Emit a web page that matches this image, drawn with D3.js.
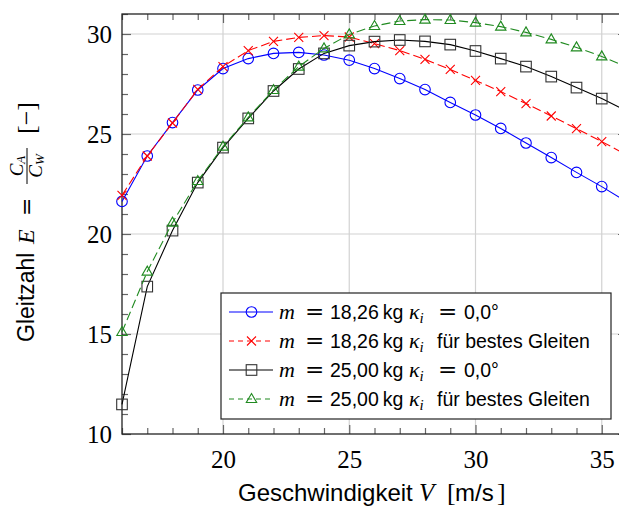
<!DOCTYPE html>
<html>
<head>
<meta charset="utf-8">
<script src="https://cdn.jsdelivr.net/npm/d3@7"></script>
<style>
  html, body { margin: 0; padding: 0; background: #fff; overflow: hidden; }
  svg { display: block; }
</style>
</head>
<body>
<div id="chart"></div>
<script>
// Fluggeschwindigkeit in m/s
const speeds = [16, 17, 18, 19, 20, 21, 22, 23, 24, 25, 26, 27, 28, 29, 30, 31, 32, 33, 34, 35, 36];

// Gleitzahl E fuer die vier Faelle
const e1826Null = [21.63, 23.9, 25.57, 27.2, 28.27, 28.77, 29.03, 29.08, 28.95, 28.69, 28.27, 27.77, 27.22, 26.58, 25.95, 25.28, 24.55, 23.82, 23.08, 22.37, 21.6];
const e1826Best = [21.93, 23.9, 25.55, 27.23, 28.37, 29.17, 29.63, 29.83, 29.92, 29.85, 29.52, 29.17, 28.73, 28.23, 27.68, 27.12, 26.52, 25.9, 25.27, 24.62, 23.95];
const e2500Null = [11.48, 17.37, 20.17, 22.57, 24.32, 25.78, 27.15, 28.25, 29.03, 29.42, 29.62, 29.7, 29.63, 29.47, 29.15, 28.77, 28.37, 27.87, 27.32, 26.77, 26.15];
const e2500Best = [15.1, 18.12, 20.57, 22.65, 24.37, 25.83, 27.2, 28.37, 29.28, 29.98, 30.4, 30.65, 30.72, 30.7, 30.57, 30.37, 30.08, 29.73, 29.33, 28.88, 28.35];

const xTicks = [20, 25, 30, 35];
const yTicks = [10, 15, 20, 25, 30];

const series = [
  { mass: '18,26', kappa: 'null', values: e1826Null, color: '#0000ff', dash: null, marker: 'circle' },
  { mass: '18,26', kappa: 'best', values: e1826Best, color: '#ff0000', dash: '9,4', marker: 'cross' },
  { mass: '25,00', kappa: 'null', values: e2500Null, color: '#000000', dash: null, marker: 'square' },
  { mass: '25,00', kappa: 'best', values: e2500Best, color: '#208a20', dash: '9,4', marker: 'triangle' }
];

const width = 619, height = 507;
const margin = { left: 122, top: 14, right: -8, bottom: 73 };

const svg = d3.select('#chart').append('svg')
  .attr('width', width)
  .attr('height', height);

const x = d3.scaleLinear().domain([16, 36]).range([margin.left, width - margin.right]);
const y = d3.scaleLinear().domain([10, 31]).range([height - margin.bottom, margin.top]);

const serif = '"Liberation Serif", "DejaVu Serif", serif';
const sans = '"Liberation Sans", Arial, sans-serif';
const eqFont = '"DejaVu Serif", serif';

// Gitterlinien
const grid = svg.append('g');
grid.selectAll('.gx').data(xTicks).enter().append('line')
  .attr('x1', d => x(d)).attr('x2', d => x(d))
  .attr('y1', y(10)).attr('y2', y(31))
  .attr('stroke', '#d2d2d2').attr('stroke-width', 1.2);
grid.selectAll('.gy').data(yTicks.filter(d => d > 10)).enter().append('line')
  .attr('x1', x(16)).attr('x2', x(36))
  .attr('y1', d => y(d)).attr('y2', d => y(d))
  .attr('stroke', '#d2d2d2').attr('stroke-width', 1.2);

// Achsen mit Ticks nach innen
const minorX = d3.range(16, 37, 1).filter(d => !xTicks.includes(d));
const minorY = d3.range(10, 32, 1).filter(d => !yTicks.includes(d));

const axisStyle = g => g.call(s => s.select('.domain').remove())
  .call(s => s.selectAll('.tick line').attr('stroke', '#666').attr('stroke-width', 1.2));

svg.append('g').attr('transform', `translate(0,${y(10)})`)
  .call(d3.axisBottom(x).tickValues(minorX).tickSize(-6).tickFormat(''))
  .call(axisStyle);
svg.append('g').attr('transform', `translate(0,${y(10)})`)
  .call(d3.axisBottom(x).tickValues(xTicks).tickSize(-9).tickPadding(16).tickFormat(d3.format('d')))
  .call(axisStyle)
  .call(g => g.selectAll('text').attr('font-family', serif).attr('font-size', 25).attr('fill', '#000'));
svg.append('g').attr('transform', `translate(0,${y(31)})`)
  .call(d3.axisTop(x).tickValues(minorX).tickSize(-6).tickFormat(''))
  .call(axisStyle);
svg.append('g').attr('transform', `translate(0,${y(31)})`)
  .call(d3.axisTop(x).tickValues(xTicks).tickSize(-9).tickFormat(''))
  .call(axisStyle);

svg.append('g').attr('transform', `translate(${x(16)},0)`)
  .call(d3.axisLeft(y).tickValues(minorY).tickSize(-6).tickFormat(''))
  .call(axisStyle);
svg.append('g').attr('transform', `translate(${x(16)},0)`)
  .call(d3.axisLeft(y).tickValues(yTicks).tickSize(-9).tickPadding(10).tickFormat(d3.format('d')))
  .call(axisStyle)
  .call(g => g.selectAll('text').attr('font-family', serif).attr('font-size', 25).attr('fill', '#000'));
svg.append('g').attr('transform', `translate(${x(36)},0)`)
  .call(d3.axisRight(y).tickValues(minorY).tickSize(-6).tickFormat(''))
  .call(axisStyle);
svg.append('g').attr('transform', `translate(${x(36)},0)`)
  .call(d3.axisRight(y).tickValues(yTicks).tickSize(-9).tickFormat(''))
  .call(axisStyle);

// Rahmen
svg.append('rect')
  .attr('x', x(16)).attr('y', y(31))
  .attr('width', x(36) - x(16)).attr('height', y(10) - y(31))
  .attr('fill', 'none').attr('stroke', '#222').attr('stroke-width', 1.3);

// Linien und Marker
const line = d3.line().x(d => x(d[0])).y(d => y(d[1]));

function drawMarker(g, type, color) {
  if (type === 'circle') {
    g.append('circle').attr('r', 5.3).attr('fill', 'none').attr('stroke', color).attr('stroke-width', 1.1);
  } else if (type === 'cross') {
    g.append('path').attr('d', 'M-4.5,-4.5L4.5,4.5M-4.5,4.5L4.5,-4.5').attr('stroke', color).attr('stroke-width', 1.1);
  } else if (type === 'square') {
    g.append('rect').attr('x', -5.3).attr('y', -5.3).attr('width', 10.6).attr('height', 10.6)
      .attr('fill', 'none').attr('stroke', '#333').attr('stroke-width', 1.1);
  } else {
    g.append('path').attr('d', 'M0,-5.5L5.2,3.5L-5.2,3.5Z').attr('fill', 'none').attr('stroke', color).attr('stroke-width', 1.1);
  }
}

series.forEach(s => {
  const pts = speeds.map((v, i) => [v, s.values[i]]);
  svg.append('path')
    .datum(pts)
    .attr('d', line)
    .attr('fill', 'none')
    .attr('stroke', s.color)
    .attr('stroke-width', 1.1)
    .attr('stroke-dasharray', s.dash);
  svg.append('g').selectAll('g').data(pts).enter().append('g')
    .attr('transform', d => `translate(${x(d[0])},${y(d[1])})`)
    .each(function () { drawMarker(d3.select(this), s.marker, s.color); });
});

// Legende
const legend = svg.append('g');
legend.append('rect')
  .attr('x', 221).attr('y', 293).attr('width', 390).attr('height', 126)
  .attr('fill', '#fff').attr('stroke', '#222').attr('stroke-width', 1.2);

series.forEach((s, i) => {
  const ly = 312 + i * 29;
  const row = legend.append('g');
  row.append('line')
    .attr('x1', 229).attr('x2', 273).attr('y1', ly).attr('y2', ly)
    .attr('stroke', s.color).attr('stroke-width', 1.1)
    .attr('stroke-dasharray', s.dash ? '5,4' : null);
  drawMarker(row.append('g').attr('transform', `translate(251.5,${ly})`), s.marker, s.color);
  const t = row.append('text')
    .attr('y', ly + 7)
    .attr('font-size', 19.5).attr('font-family', sans).attr('fill', '#000');
  t.append('tspan').attr('x', 279).attr('font-family', serif).attr('font-style', 'italic').attr('font-size', 22).text('m');
  t.append('tspan').attr('x', 305).attr('font-family', eqFont).attr('font-size', 23).text('=');
  t.append('tspan').attr('x', 330).text(s.mass + '\u2009kg');
  t.append('tspan').attr('x', 409).attr('font-family', serif).attr('font-style', 'italic').attr('font-size', 22).text('\u03ba');
  t.append('tspan').attr('font-family', serif).attr('font-style', 'italic').attr('font-size', 15).attr('dy', 4).text('i');
  if (s.kappa === 'null') {
    t.append('tspan').attr('x', 438).attr('dy', -4).attr('font-family', eqFont).attr('font-size', 23).text('=');
    t.append('tspan').attr('x', 464).text('0,0\u00b0');
  } else {
    t.append('tspan').attr('x', 437).attr('dy', -4).text('f\u00fcr bestes Gleiten');
  }
});

// Achsenbeschriftungen
const xl = svg.append('text')
  .attr('y', 501)
  .attr('font-family', sans).attr('font-size', 24).attr('fill', '#000');
xl.append('tspan').attr('x', 238).text('Geschwindigkeit');
xl.append('tspan').attr('x', 419).attr('font-family', serif).attr('font-style', 'italic').attr('font-size', 25).text('V');
xl.append('tspan').attr('x', 447).attr('font-family', serif).attr('font-size', 26).text('[');
xl.append('tspan').attr('x', 455).text('m/s');
xl.append('tspan').attr('x', 497).attr('font-family', serif).attr('font-size', 26).text(']');

const yl = svg.append('g').attr('transform', 'translate(34,342) rotate(-90)');
const yt = yl.append('text').attr('y', 0)
  .attr('font-family', sans).attr('font-size', 23).attr('fill', '#000');
yt.append('tspan').attr('x', 0).text('Gleitzahl');
yt.append('tspan').attr('x', 98).attr('font-family', serif).attr('font-style', 'italic').attr('font-size', 24).text('E');
yt.append('tspan').attr('x', 126).attr('font-family', eqFont).attr('font-size', 22).text('=');
// Bruch C_A / C_W
const fx = 158, fw = 36;
yl.append('line').attr('x1', fx).attr('x2', fx + fw).attr('y1', -7).attr('y2', -7)
  .attr('stroke', '#000').attr('stroke-width', 1);
const num = yl.append('text').attr('x', fx + fw / 2).attr('y', -11).attr('text-anchor', 'middle')
  .attr('font-family', serif).attr('font-style', 'italic').attr('font-size', 19);
num.append('tspan').text('C');
num.append('tspan').attr('font-size', 13).attr('dy', 2).text('A');
const den = yl.append('text').attr('x', fx + fw / 2).attr('y', 8).attr('text-anchor', 'middle')
  .attr('font-family', serif).attr('font-style', 'italic').attr('font-size', 19);
den.append('tspan').text('C');
den.append('tspan').attr('font-size', 13).attr('dy', 2).text('W');
yl.append('text').attr('x', 208).attr('y', 1)
  .attr('font-family', serif).attr('font-size', 26).text('[\u2212]');
</script>
</body>
</html>
